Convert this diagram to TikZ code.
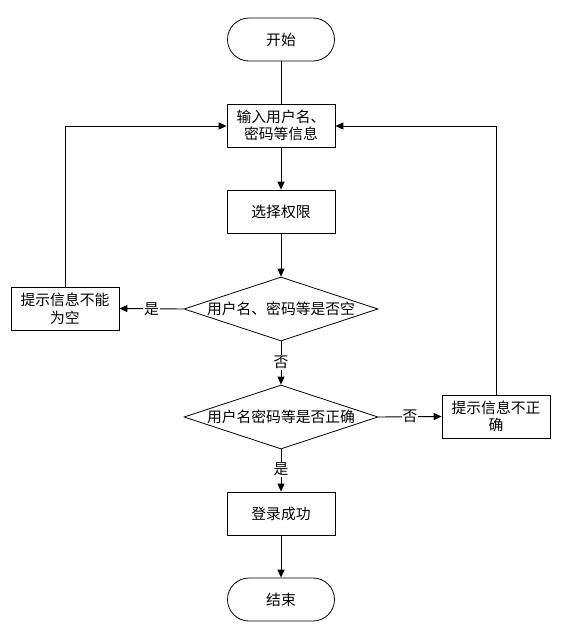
\documentclass[tikz,border=0pt]{standalone}
\usepackage{fontspec}
\setmainfont{Noto Sans CJK SC}
\usetikzlibrary{arrows.meta,shapes.geometric}
\begin{document}
\begin{tikzpicture}[x=1pt,y=-1pt,
  font=\fontsize{14.8}{17.5}\selectfont,
  every node/.style={inner sep=0pt, align=center},
  boxnode/.style={draw, line width=0.8pt, minimum width=108pt, minimum height=43pt},
  termnode/.style={draw, line width=0.8pt, rounded corners=21.5pt, minimum width=107pt, minimum height=43pt},
  decnode/.style={draw, line width=0.8pt, diamond, aspect=3, minimum width=194pt, minimum height=64pt, inner sep=0pt},
  conn/.style={line width=0.9pt},
  arr/.style={conn, -{Triangle[length=8pt,width=7pt]}},
  lbl/.style={fill=white, inner sep=1pt}]
\useasboundingbox (0,0) rectangle (564,627);
\node[termnode] (start) at (281,39.5) {开始};
\node[boxnode] (input) at (281,125.5) {输入用户名、\\密码等信息};
\node[boxnode] (perm) at (281,211.5) {选择权限};
\node[decnode] (d1) at (281,309) {用户名、密码等是否空};
\node[boxnode] (empty) at (65,308.5) {提示信息不能\\为空};
\node[decnode] (d2) at (281,417) {用户名密码等是否正确};
\node[boxnode] (wrong) at (496,416.5) {提示信息不正\\确};
\node[boxnode] (ok) at (281,513.5) {登录成功};
\node[termnode] (end) at (281,599.5) {结束};
\coordinate (lc) at (65,126);
\coordinate (rc) at (496,126);
\draw[conn] (start) -- (input);
\draw[arr] (input) -- (perm);
\draw[arr] (perm) -- (d1);
\draw[arr] (d1.west) -- node[lbl] {是} (empty.east);
\draw[conn] (empty.north) -- (lc);
\draw[arr] (lc) -- (input.west |- lc);
\draw[arr] (d1.south) -- node[lbl, pos=0.48] {否} (d2.north);
\draw[arr] (d2.east) -- node[lbl, pos=0.5] {否} (wrong.west);
\draw[conn] (wrong.north) -- (rc);
\draw[arr] (rc) -- (input.east |- rc);
\draw[arr] (d2.south) -- node[lbl, pos=0.48] {是} (ok.north);
\draw[arr] (ok) -- (end);
\end{tikzpicture}
\end{document}
